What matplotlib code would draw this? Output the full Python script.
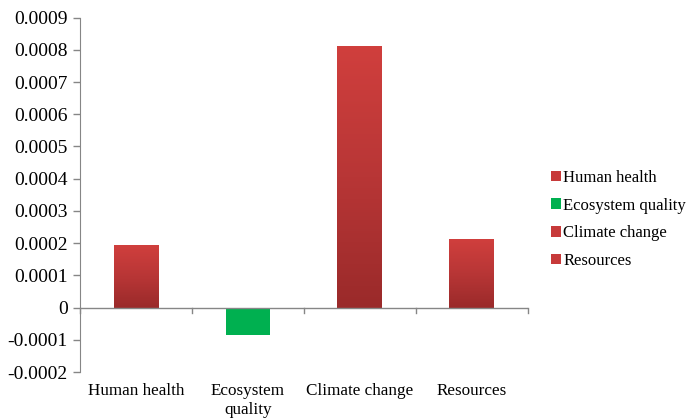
import matplotlib
matplotlib.use("Agg")
import matplotlib.pyplot as plt
import numpy as np
from matplotlib.colors import LinearSegmentedColormap
from matplotlib.patches import Patch

categories = ["Human health", "Ecosystem\nquality", "Climate change", "Resources"]
legend_names = ["Human health", "Ecosystem quality", "Climate change", "Resources"]
values = [0.000193, -0.000086, 0.000811, 0.000212]
colors = ["#c73a3a", "#00b050", "#c73a3a", "#c73a3a"]

plt.rcParams["font.family"] = ["Liberation Serif", "DejaVu Serif"]
plt.rcParams["font.size"] = 12

fig = plt.figure(figsize=(6.91, 4.18), dpi=100)
ax = fig.add_axes([0.1158, 0.110, 0.648, 0.848])

x = np.arange(len(categories))
bars = ax.bar(x, values, width=0.4, color=colors, zorder=2)

# Excel style vertical gradient on the red bars
red_grad = LinearSegmentedColormap.from_list("red_grad", ["#9a2a2a", "#b83636", "#d03f3d"])
grad = np.linspace(0, 1, 256).reshape(-1, 1)
for b, v in zip(bars, values):
    if v < 0:
        continue
    x0, y0 = b.get_x(), b.get_y()
    w, h = b.get_width(), b.get_height()
    im = ax.imshow(grad, cmap=red_grad, origin="lower", aspect="auto",
                   extent=[x0, x0 + w, y0, y0 + h], zorder=3)
    im.set_clip_path(b)

ax.set_xlim(-0.5, len(categories) - 0.5)
ax.set_ylim(-0.0002, 0.0009)
ax.set_yticks(np.arange(-0.0002, 0.00091, 0.0001))
ax.set_yticklabels(["-0.0002", "-0.0001", "0", "0.0001", "0.0002", "0.0003",
                    "0.0004", "0.0005", "0.0006", "0.0007", "0.0008", "0.0009"],
                   fontsize=14)

ax.set_xticks(x)
ax.set_xticklabels(categories, linespacing=1.22, fontsize=12.3)
ax.tick_params(axis="x", which="major", length=0, pad=8)
ax.tick_params(axis="y", length=5, color="#868686", width=1, direction="out", pad=4)

for s in ["top", "right", "bottom"]:
    ax.spines[s].set_visible(False)
ax.spines["left"].set_color("#868686")
ax.axhline(0, color="#868686", lw=1, zorder=4)

# category separator ticks sit on the zero line
for xi in np.arange(-0.5, len(categories), 1.0):
    ax.plot([xi, xi], [0, -0.000016], color="#868686", lw=1, zorder=4, clip_on=False)

handles = [Patch(facecolor=c) for c in colors]
fig.legend(handles, legend_names, loc="center left", bbox_to_anchor=(0.775, 0.475),
           frameon=False, handlelength=0.6, handleheight=0.6, handletextpad=0.15,
           labelspacing=0.7, fontsize=12)

fig.savefig("out.png", dpi=100)
